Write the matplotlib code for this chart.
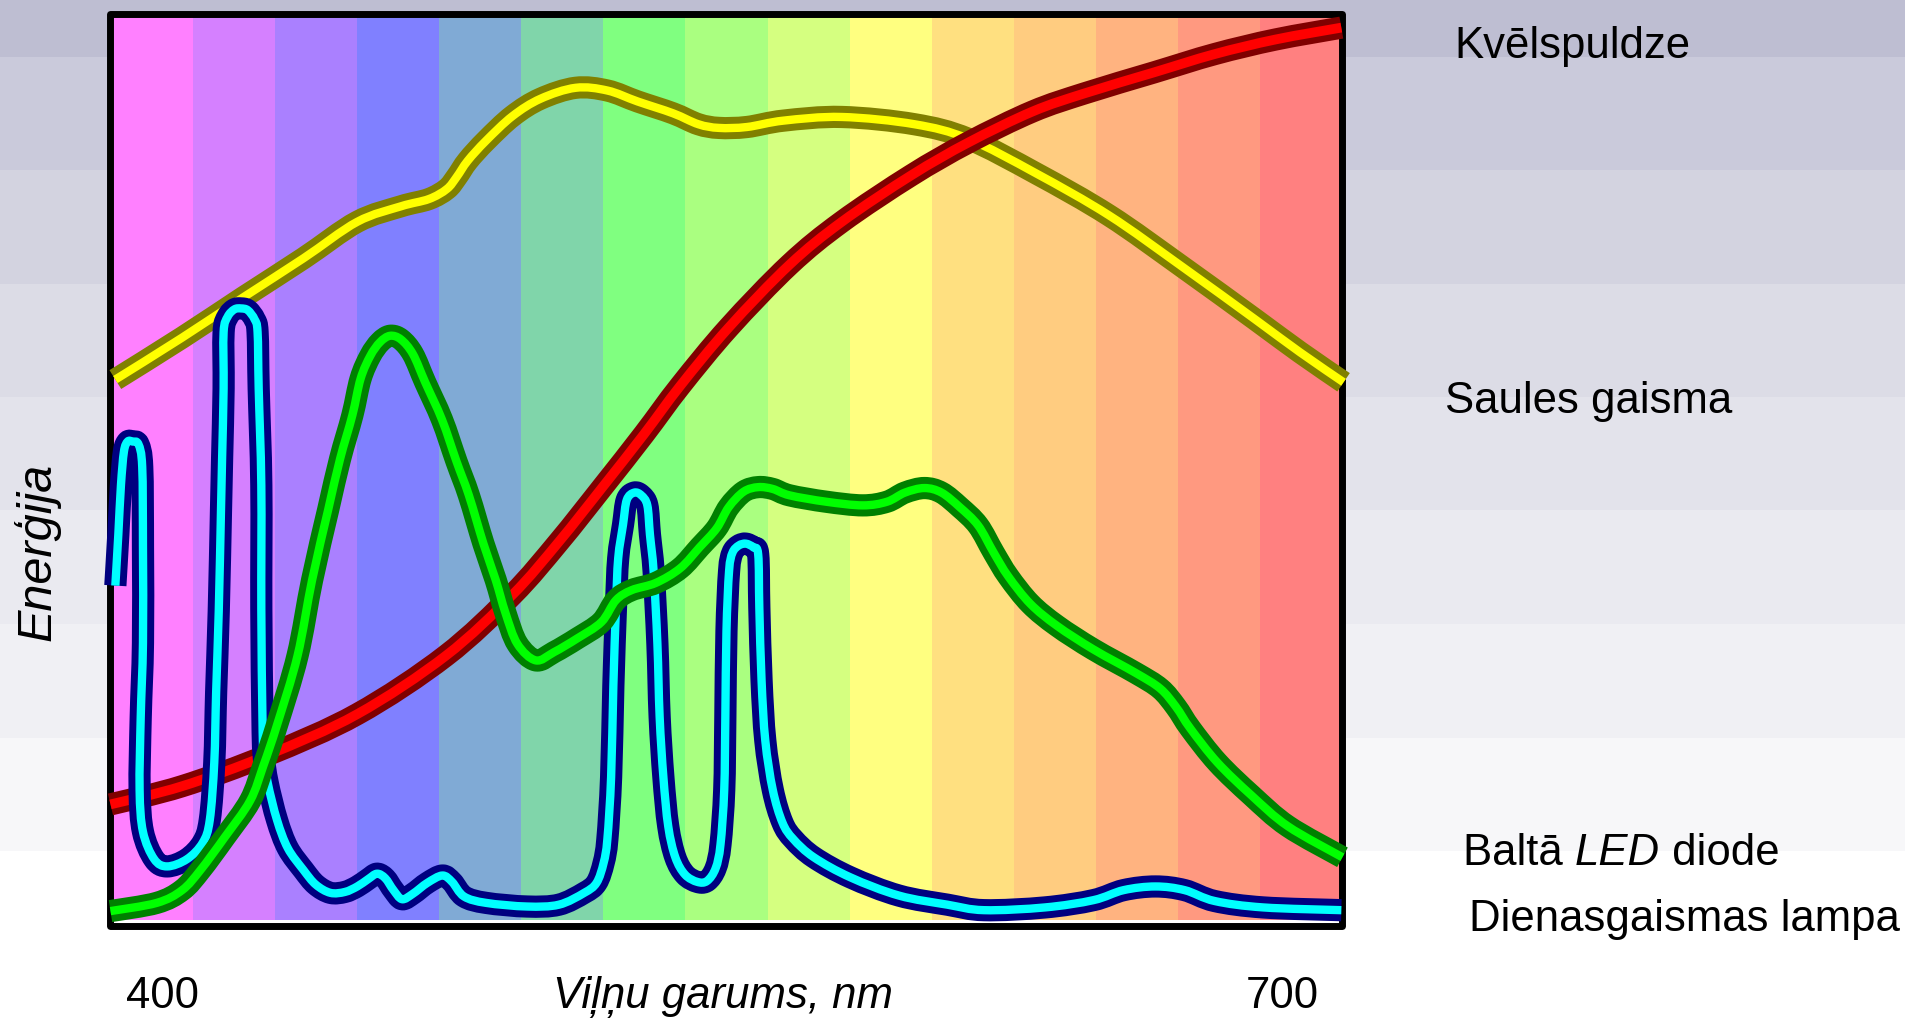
import matplotlib
matplotlib.use("Agg")
import matplotlib.pyplot as plt
from matplotlib.patches import Rectangle, PathPatch
from matplotlib.path import Path
from matplotlib import font_manager
from matplotlib.font_manager import FontProperties
from matplotlib.transforms import blended_transform_factory

# ---------------- data ----------------
band_start = 386
band_width = 22
band_colors = ["#ff80ff", "#d580ff", "#aa80ff", "#8080ff", "#80aad5",
               "#80d5aa", "#80ff80", "#aaff80", "#d5ff80", "#ffff80",
               "#ffe080", "#ffcc80", "#ffb380", "#ff9980", "#ff8080"]

tick_values = [400, 700]
tick_labels = ["400", "700"]

# Kvēlspuldze (incandescent bulb)
bulb_nm = [386.0, 405.2, 428.0, 452.1, 475.8, 493.7, 506.1, 517.8, 528.9, 538.6,
           551.6, 567.9, 581.9, 600.5, 615.8, 633.0, 647.0, 665.6, 681.8, 698.1, 715.7]
bulb_e = [13.3, 15.3, 18.7, 23.2, 29.6, 36.3, 42.1, 48.1, 53.9, 59.2,
          65.6, 72.5, 77.2, 82.3, 85.9, 89.3, 91.3, 93.6, 95.6, 97.2, 98.5]

# Saules gaisma (sunlight)
sun_nm = [387.3, 405.2, 421.5, 437.7, 452.1, 463.8, 471.3, 476.1, 478.7, 481.7,
          486.6, 493.7, 501.2, 510.6, 519.1, 527.2, 536.7, 543.5, 549.0, 556.5,
          566.3, 581.9, 601.4, 615.8, 634.0, 653.5, 673.0, 692.6, 704.6, 716.3]
sun_e = [59.9, 64.5, 68.9, 73.2, 77.2, 78.9, 79.7, 80.8, 82.1, 83.9,
         86.1, 88.8, 90.7, 91.9, 91.6, 90.4, 89.1, 87.9, 87.5, 87.6,
         88.3, 88.7, 87.9, 86.3, 82.5, 77.9, 72.3, 66.5, 62.9, 59.6]

# Baltā LED diode (white LED)
led_nm = [386.0, 398.4, 405.2, 410.1, 416.6, 423.4, 427.0, 430.6, 436.1, 440.0, 444.3,
          447.5, 450.8, 453.0, 455.6, 458.2, 460.9, 463.8, 467.0, 470.3, 474.8,
          478.7, 482.0, 485.9, 489.2, 491.8, 495.0, 499.9, 504.8, 511.0, 517.5,
          521.4, 525.6, 532.1, 538.6, 543.8, 548.4, 551.6, 555.6, 559.5, 563.4,
          567.9, 577.7, 587.5, 594.0, 598.8, 604.0, 608.6, 613.5, 618.4, 622.6,
          626.5, 632.4, 639.5, 649.3, 660.7, 667.2, 671.4, 675.3, 682.5, 691.6,
          701.4, 716.0]
led_e = [1.6, 2.5, 3.9, 6.1, 9.7, 13.7, 17.6, 22.0, 29.6, 37.9, 45.6,
         51.2, 56.0, 60.0, 62.5, 64.0, 64.7, 64.3, 62.7, 59.6, 55.5,
         50.9, 47.2, 41.9, 37.9, 34.3, 30.9, 29.1, 30.0, 31.5, 33.3,
         35.7, 36.8, 37.6, 39.2, 41.5, 43.6, 45.9, 47.6, 48.1, 47.9,
         47.2, 46.5, 46.1, 46.5, 47.5, 48.0, 47.5, 45.9, 43.9, 40.9,
         38.3, 35.3, 32.9, 30.3, 27.7, 26.0, 24.0, 21.6, 17.9, 14.3,
         10.9, 7.5]

# Dienasgaismas lampa (fluorescent lamp) - traced path
lamp_nm = [387.3, 388.1, 388.8, 389.6, 390.6, 391.9, 393.5, 394.5, 394.7, 394.7,
           394.1, 393.8, 394.7, 397.7, 401.2, 406.5, 410.7, 412.6, 413.8, 414.3,
           415.0, 415.6, 415.9, 416.3, 416.3, 417.4, 419.2, 421.0, 422.8, 424.6,
           425.4, 425.7, 426.4, 426.4, 426.7, 427.0, 428.1, 430.6, 433.5, 437.7,
           441.0, 444.9, 448.8, 452.1, 455.0, 457.4, 459.6, 461.8, 464.1, 467.0,
           470.9, 474.9, 477.5, 480.7, 486.6, 497.6, 506.1, 512.9, 516.2, 518.1,
           519.1, 520.1, 520.7, 521.4, 522.0, 523.3, 524.3, 526.3, 528.2, 529.8,
           530.5, 531.5, 532.5, 533.1, 534.1, 535.4, 537.3, 539.9, 543.2, 545.8,
           548.1, 549.4, 550.4, 550.7, 551.0, 551.7, 552.6, 554.3, 556.2, 558.2,
           559.5, 559.8, 560.4, 561.4, 563.4, 566.0, 568.9, 574.4, 584.2, 597.2,
           610.2, 620.0, 636.3, 649.3, 657.4, 665.9, 673.7, 681.8, 694.8, 715.7]
lamp_e = [37.3, 42.9, 48.3, 52.0, 53.1, 53.1, 52.8, 50.3, 41.6, 31.0,
          22.9, 14.9, 10.3, 7.3, 6.5, 7.3, 9.1, 11.6, 17.9, 25.6,
          34.5, 45.6, 51.3, 58.9, 65.1, 66.8, 67.6, 67.7, 67.5, 66.5,
          65.1, 58.9, 48.3, 34.7, 22.9, 18.8, 15.7, 11.6, 8.5, 6.1,
          4.5, 3.6, 3.7, 4.3, 5.1, 5.7, 5.2, 3.9, 2.9, 3.5,
          4.7, 5.5, 4.8, 3.2, 2.5, 2.1, 2.3, 3.6, 4.7, 6.9,
          9.5, 16.3, 26.3, 34.9, 40.3, 44.0, 46.7, 47.5, 47.2, 46.1,
          42.9, 38.8, 30.9, 22.9, 16.3, 10.9, 7.5, 5.6, 4.8, 4.9,
          6.3, 8.9, 14.9, 22.9, 32.3, 38.9, 40.9, 41.7, 41.9, 41.5,
          40.7, 34.9, 26.9, 20.3, 14.9, 11.3, 9.5, 7.5, 5.3, 3.3,
          2.3, 1.7, 2.0, 2.8, 3.9, 4.3, 3.9, 2.7, 2.0, 1.7]

# background horizontal stripes (figure pixel rows) and their colours
stripe_edges = [0, 57, 170, 284, 397, 510, 624, 738, 851, 1018]
stripe_colors = ["#bebed2", "#cacadb", "#d3d3e0", "#dcdce6", "#e3e3eb",
                 "#eaeaf0", "#f0f0f4", "#f7f7f9", "#ffffff"]

# ---------------- fonts ----------------
def find_file(keys):
    for f in font_manager.fontManager.ttflist:
        base = f.fname.replace("\\", "/").split("/")[-1]
        if base in keys:
            return f.fname
    for p in font_manager.findSystemFonts():
        base = p.replace("\\", "/").split("/")[-1]
        if base in keys:
            return p
    return None

narrow_reg = find_file(["LiberationSansNarrow-Regular.ttf"])
narrow_it = find_file(["LiberationSansNarrow-Italic.ttf"])
plt.rcParams["font.family"] = ["Liberation Sans", "DejaVu Sans"]
if narrow_reg and narrow_it:
    FS, FSY = 37, 43
    def fp(italic=False, size=None):
        return FontProperties(fname=narrow_it if italic else narrow_reg,
                              size=size or FS)
else:
    FS, FSY = 31.5, 35
    def fp(italic=False, size=None):
        return FontProperties(family=["Liberation Sans", "DejaVu Sans"],
                              style="italic" if italic else "normal",
                              size=size or FS)

W, H = 1905, 1018
fig = plt.figure(figsize=(W / 100, H / 100), dpi=100)

bg = fig.add_axes([0, 0, 1, 1], zorder=-5)
bg.set_xlim(0, W)
bg.set_ylim(H, 0)
bg.axis("off")
for i, c in enumerate(stripe_colors):
    bg.axhspan(stripe_edges[i], stripe_edges[i + 1], color=c, lw=0)

ax = fig.add_axes([0.0580, 0.0907, 0.6467, 0.8956])
ax.set_xlim(band_start, band_start + band_width * len(band_colors))
ax.set_ylim(0, 100)
ax.axis("off")

for i, c in enumerate(band_colors):
    lo = band_start + i * band_width
    ax.axvspan(lo, lo + band_width, ymin=0.006, ymax=1, color=c, lw=0, zorder=0)

ax.add_patch(Rectangle((0, 0), 1, 1, transform=ax.transAxes, fill=False,
                       lw=5, ec="black", joinstyle="round", zorder=2,
                       clip_on=False))


def smooth_path(xs, ys):
    """Cubic Bezier path through the traced points (Catmull-Rom style)."""
    pts = list(zip(xs, ys))
    n = len(pts)
    verts = [pts[0]]
    codes = [Path.MOVETO]
    for i in range(n - 1):
        p0 = pts[i - 1] if i > 0 else pts[i]
        p1 = pts[i]
        p2 = pts[i + 1]
        p3 = pts[i + 2] if i + 2 < n else pts[i + 1]
        c1 = (p1[0] + (p2[0] - p0[0]) / 6.0, p1[1] + (p2[1] - p0[1]) / 6.0)
        c2 = (p2[0] - (p3[0] - p1[0]) / 6.0, p2[1] - (p3[1] - p1[1]) / 6.0)
        verts += [c1, c2, p2]
        codes += [Path.CURVE4] * 3
    return Path(verts, codes)


curves = [
    (sun_nm, sun_e, "#808000", "#ffff00", 6.0),
    (bulb_nm, bulb_e, "#800000", "#ff0000", 7.0),
    (lamp_nm, lamp_e, "#000080", "#00ffff", 6.0),
    (led_nm, led_e, "#008000", "#00ff00", 6.0),
]
z = 3
for xs, ys, dark, light, core in curves:
    path = smooth_path(xs, ys)
    for col, lw, dz in ((dark, 16, 0), (light, core, 0.5)):
        ax.add_patch(PathPatch(path, fill=False, edgecolor=col, lw=lw,
                               joinstyle="round", capstyle="butt",
                               clip_on=False, zorder=z + dz))
    z += 1

# x tick labels and axis titles
tr = blended_transform_factory(ax.transData, fig.transFigure)
for v, lab in zip(tick_values, tick_labels):
    ax.text(v, 0.0094, lab, transform=tr, ha="center", va="baseline",
            fontproperties=fp())
fig.text(0.3795, 0.0094, "Viļņu garums, nm", ha="center", va="baseline",
         fontproperties=fp(italic=True))
fig.text(0.0192, 0.4581, "Enerģija", ha="center", va="center", rotation=90,
         fontproperties=fp(italic=True, size=FSY))

# series labels
fig.text(0.7633, 0.9427, "Kvēlspuldze", ha="left", va="baseline",
         fontproperties=fp())
fig.text(0.7583, 0.5943, "Saules gaisma", ha="left", va="baseline",
         fontproperties=fp())
t1 = fig.text(0.7678, 0.1503, "Baltā ", ha="left", va="baseline",
              fontproperties=fp())
t2 = fig.text(0, 0, "LED", ha="left", va="baseline", fontproperties=fp(italic=True))
t3 = fig.text(0, 0, " diode", ha="left", va="baseline", fontproperties=fp())
fig.text(0.7710, 0.0859, "Dienasgaismas lampa", ha="left", va="baseline",
         fontproperties=fp())

# place "LED" and " diode" right after the preceding piece on the same baseline
fig.canvas.draw()
r = fig.canvas.get_renderer()
x_next = fig.transFigure.inverted().transform(
    (t1.get_window_extent(r).x1, 0))[0]
t2.set_position((x_next, 0.1503))
fig.canvas.draw()
x_next = fig.transFigure.inverted().transform(
    (t2.get_window_extent(r).x1, 0))[0]
t3.set_position((x_next, 0.1503))

fig.savefig("out.png", dpi=100)
